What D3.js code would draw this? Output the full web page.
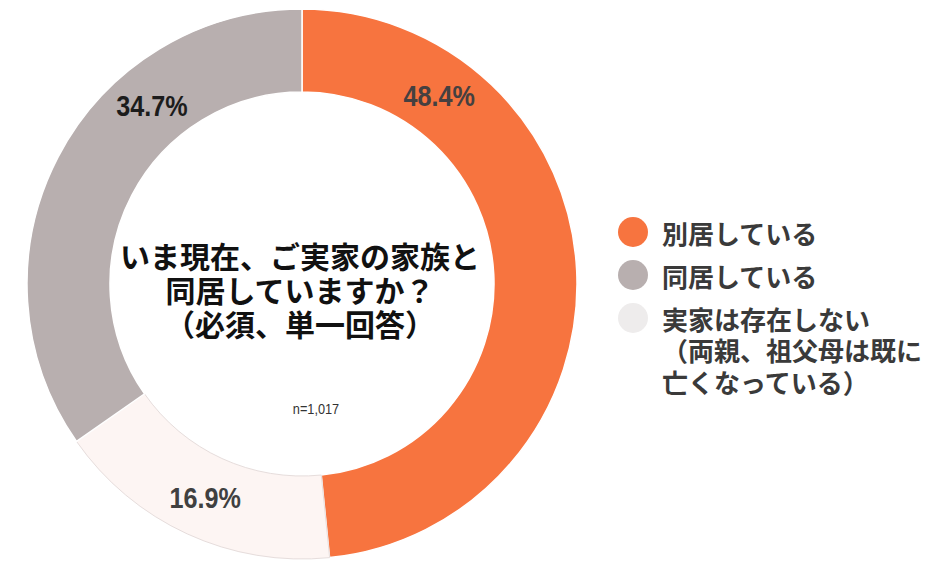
<!DOCTYPE html>
<html>
<head>
<meta charset="utf-8">
<script src="https://cdn.jsdelivr.net/npm/d3@7"></script>
<style>
    body { margin: 0; background: #fff; }
    svg { display: block; }
</style>
</head>
<body>
<svg id="chart" width="934" height="574"></svg>
<script>
// Data
const categories = ['別居している', '同居している', '実家は存在しない'];
const values = [48.4, 16.9, 34.7]; // clockwise from top: orange, light, gray
const sliceNames = ['別居している', '実家は存在しない', '同居している'];
const legendLines = [
    ['別居している'],
    ['同居している'],
    ['実家は存在しない', '（両親、祖父母は既に', '亡くなっている）']
];
const titleLines = ['いま現在、ご実家の家族と', '同居していますか？', '（必須、単一回答）'];
const sampleLabel = 'n=1,017';

const colors = {
    '別居している': '#F7743F',
    '同居している': '#B8AFAF',
    '実家は存在しない': '#FDF5F3'
};
const legendColors = {
    '別居している': '#F7743F',
    '同居している': '#B8AFAF',
    '実家は存在しない': '#EEECEC'
};
const labelColors = {
    '別居している': '#454040',
    '同居している': '#1c1c1c',
    '実家は存在しない': '#404040'
};
// where each percent label sits on the ring (degrees, clockwise from top)
const labelAngles = {
    '別居している': 36,
    '同居している': 320,
    '実家は存在しない': 204.5
};

const cx = 302, cy = 284;
const outerRadius = 275;
const innerRadius = 192;

const svg = d3.select('#chart');
const g = svg.append('g').attr('transform', `translate(${cx},${cy})`);

const pie = d3.pie()
    .sort(null)
    .value(d => d.value);

const slices = pie(sliceNames.map((name, i) => ({ name: name, value: values[i] })));

const arc = d3.arc()
    .innerRadius(innerRadius)
    .outerRadius(outerRadius);

g.selectAll('path.slice')
    .data(slices)
    .enter()
    .append('path')
    .attr('class', 'slice')
    .attr('d', arc)
    .attr('fill', d => colors[d.data.name])
    .attr('stroke', d => d.data.name === '実家は存在しない' ? '#E6DDDC' : '#fff')
    .attr('stroke-width', d => d.data.name === '実家は存在しない' ? 1 : 1.5);

// percent labels
slices.forEach(d => {
    const a = labelAngles[d.data.name] * Math.PI / 180;
    const pos = arc.centroid({ startAngle: a, endAngle: a });
    g.append('text')
        .attr('transform', `translate(${pos[0]},${pos[1] + 1}) scale(0.84,1)`)
        .attr('text-anchor', 'middle')
        .attr('dominant-baseline', 'central')
        .attr('font-family', '"Liberation Sans", Arial, sans-serif')
        .attr('font-weight', 'bold')
        .attr('font-size', 30)
        .attr('fill', labelColors[d.data.name])
        .text(d.data.value.toFixed(1) + '%');
});

// title in the hole
titleLines.forEach((line, i) => {
    g.append('text')
        .attr('x', -2)
        .attr('y', -29 + i * 34)
        .attr('text-anchor', 'middle')
        .attr('dominant-baseline', 'central')
        .attr('font-family', '"Noto Sans CJK JP", sans-serif')
        .attr('font-weight', 'bold')
        .attr('font-size', 30)
        .attr('fill', '#111')
        .text(line);
});

g.append('text')
    .attr('transform', `translate(14,125) scale(0.85,1)`)
    .attr('text-anchor', 'middle')
    .attr('dominant-baseline', 'central')
    .attr('font-family', '"Liberation Sans", Arial, sans-serif')
    .attr('font-size', 15)
    .attr('fill', '#333')
    .text(sampleLabel);

// legend
const legend = svg.append('g').attr('transform', 'translate(633,232)');
let y = 0;
categories.forEach((cat, i) => {
    legend.append('circle')
        .attr('cx', 0)
        .attr('cy', y)
        .attr('r', 15)
        .attr('fill', legendColors[cat]);
    legendLines[i].forEach((line, j) => {
        legend.append('text')
            .attr('x', 29)
            .attr('y', y + j * 31.5)
            .attr('dominant-baseline', 'central')
            .attr('font-family', '"Noto Sans CJK JP", sans-serif')
            .attr('font-weight', 'bold')
            .attr('font-size', 26)
            .attr('fill', '#3a3a3a')
            .text(line);
    });
    y += 43;
});
</script>
</body>
</html>
